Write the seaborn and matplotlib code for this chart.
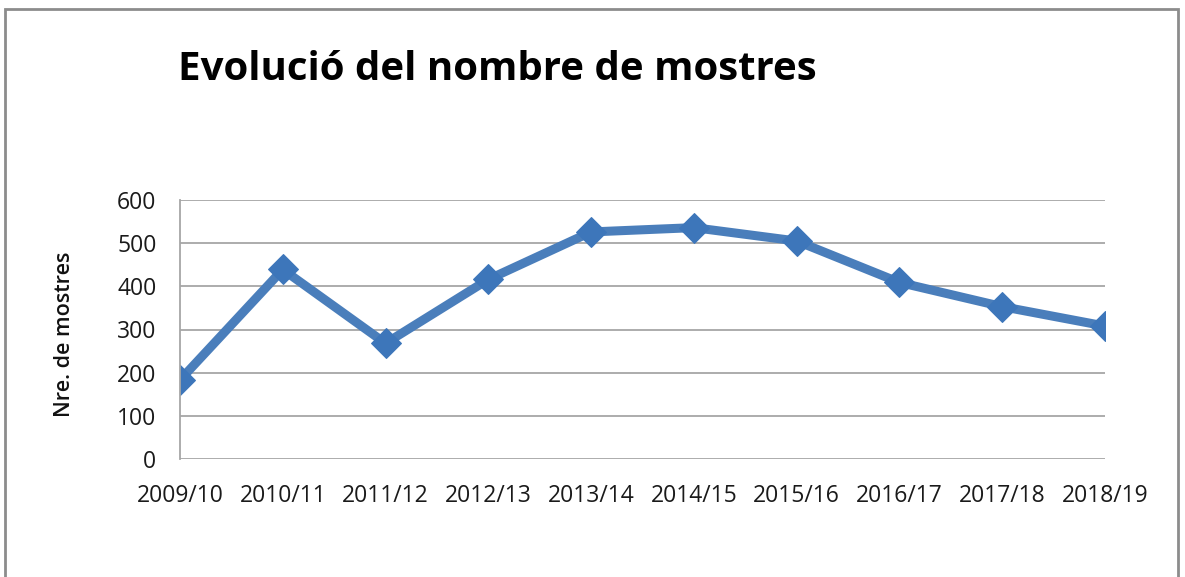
import pandas as pd
import numpy as np
import matplotlib
matplotlib.use("Agg")
import matplotlib.pyplot as plt
import seaborn as sns

# values
seasons = ["2009/10", "2010/11", "2011/12", "2012/13", "2013/14",
           "2014/15", "2015/16", "2016/17", "2017/18", "2018/19"]
samples = [183, 439, 268, 416, 526, 536, 505, 409, 353, 308]
yticks = [0, 100, 200, 300, 400, 500, 600]

df = pd.DataFrame({"Temporada": seasons, "Mostres": samples})

sns.set_theme(style="white")
plt.rcParams["font.family"] = ["Open Sans", "DejaVu Sans"]

fig = plt.figure(figsize=(11.85, 5.77), dpi=100)
W, H = 1185, 577
ax = fig.add_axes([180 / W, 1 - 459 / H, (1105 - 180) / W, (459 - 200) / H])

blue = "#4a7ebb"
sns.lineplot(data=df, x="Temporada", y="Mostres", ax=ax, sort=False,
             color=blue, linewidth=6.5, marker="D", markersize=15,
             markerfacecolor="#3d76ba", markeredgecolor="#3d76ba")

ax.set_xlim(0, len(seasons) - 1)
ax.set_ylim(0, 600)
ax.set_yticks(yticks)
ax.set_xticks(range(len(seasons)))
ax.set_xticklabels(seasons)
ax.yaxis.grid(True, color="#a6a6a6", linewidth=1.3)
ax.set_axisbelow(True)
for s in ["top", "right", "bottom"]:
    ax.spines[s].set_visible(False)
ax.spines["left"].set_color("#a6a6a6")
ax.spines["left"].set_linewidth(1.3)
ax.tick_params(axis="both", length=0, labelsize=16.5, colors="#1a1a1a")
ax.tick_params(axis="y", pad=17)
ax.tick_params(axis="x", pad=18)
ax.set_xlabel("")
ax.set_ylabel("")
for lbl in ax.get_xticklabels():
    lbl.set_clip_on(False)

fig.text(65 / W, 1 - 334 / H, "Nre. de mostres", fontsize=15.5, rotation=90,
         fontweight="semibold", color="#111111", ha="center", va="center")

fig.text(178 / W, 1 - 80 / H, "Evolució del nombre de mostres", fontsize=29,
         fontweight="bold", color="#000000", ha="left", va="baseline")

# outer chart border
fig.add_artist(plt.Rectangle((5 / W, -0.05), (1178 - 5) / W, 1 - 9 / H + 0.05,
                             transform=fig.transFigure, fill=False,
                             edgecolor="#8c8c8c", linewidth=2))

fig.savefig("out.png", dpi=100)
